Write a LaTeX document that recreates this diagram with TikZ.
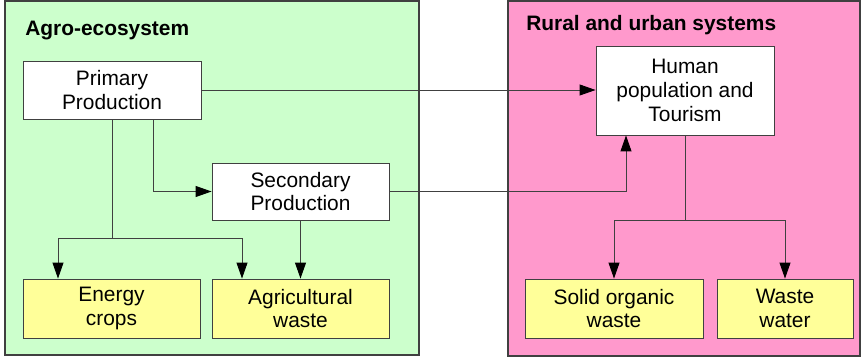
\documentclass[tikz,border=0pt]{standalone}
\usepackage{fontspec}
\setmainfont{Liberation Sans}
\usetikzlibrary{arrows.meta,calc}
\definecolor{agrogreen}{HTML}{CCFFCC}
\definecolor{urbanpink}{HTML}{FF99CC}
\definecolor{wasteyellow}{HTML}{FFFF99}
\definecolor{linegray}{HTML}{404040}
\begin{document}
\begin{tikzpicture}[x=0.02cm,y=-0.02cm,
        font=\fontsize{11.9}{13.6}\selectfont,
        panel/.style={draw=linegray,line width=0.7pt},
        title/.style={anchor=west,inner sep=0pt,font=\fontsize{11.9}{13.6}\selectfont\bfseries},
        box/.style={draw=linegray,line width=0.5pt,fill=white,align=center,inner sep=0pt,minimum height=58*0.02cm},
        sink/.style={box,fill=wasteyellow,minimum height=59*0.02cm},
        arr/.style={draw=linegray,line width=0.5pt,-{Triangle[length=0.32cm,width=0.22cm,color=black]}},
        link/.style={draw=linegray,line width=0.5pt}]
        \useasboundingbox (0,0) rectangle (862,358);
        % the two systems
        \draw[panel,fill=agrogreen] (5,1) rectangle (419,355);
        \draw[panel,fill=urbanpink] (508,1) rectangle (860,356);
        \node[title] (agrotitle) at (25,31) {Agro-ecosystem};
        \node[title] (urbantitle) at (526,25) {Rural and urban systems};
        % production
        \node[box,minimum width=178*0.02cm] (prim) at (112,90) {Primary\\Production};
        \node[box,minimum width=177*0.02cm,minimum height=57*0.02cm] (sec) at (300.5,191.5) {Secondary\\Production};
        \node[box,minimum width=178*0.02cm,minimum height=89*0.02cm] (human) at (685,90.5) {Human\\population and\\Tourism};
        % wastes
        \node[sink,minimum width=177*0.02cm] (energy) at (111.5,308.5) {Energy\\crops};
        \node[sink,minimum width=177*0.02cm] (agri) at (300.5,308.5) {Agricultural\\waste};
        \node[sink,minimum width=178*0.02cm] (solid) at (614,308.5) {Solid organic\\waste};
        \node[sink,minimum width=136*0.02cm] (water) at (785,308.5) {Waste\\water};
        % flows
        \coordinate (agrosplit) at ($(prim.south)+(0,119)$);
        \coordinate (urbansplit) at ($(human.south)+(0,85)$);
        \draw[arr] (prim.east) -- (prim.east -| human.west);
        \draw[arr] ($(prim.south)+(41,0)$) |- (sec.west);
        \draw[arr] (sec.east) -| ($(human.south)+(-59,0)$);
        \draw[arr] (sec.south) -- (agri.north);
        \draw[link] (prim.south) -- (agrosplit);
        \draw[arr] (agrosplit) -| ($(energy.north)+(-53.5,0)$);
        \draw[arr] (agrosplit) -| ($(agri.north)+(-58.5,0)$);
        \draw[link] (human.south) -- (urbansplit);
        \draw[arr] (urbansplit) -| (solid.north);
        \draw[arr] (urbansplit) -| (water.north);
    \end{tikzpicture}
\end{document}
